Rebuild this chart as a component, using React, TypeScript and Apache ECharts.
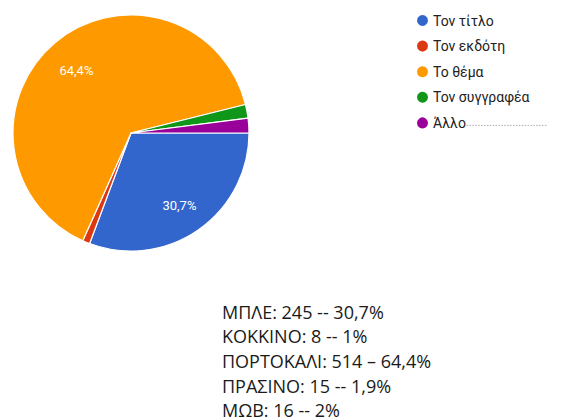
import React, { useEffect, useRef } from "react";
import * as echarts from "echarts";

const categories = ["Τον τίτλο", "Τον εκδότη", "Το θέμα", "Τον συγγραφέα", "Άλλο"];
const values = [245, 8, 514, 15, 16];
const colors = ["#3366CC", "#DC3912", "#FF9900", "#109618", "#990099"];
const otherSuffix = "............................";
const noteNames = ["ΜΠΛΕ", "ΚΟΚΚΙΝΟ", "ΠΟΡΤΟΚΑΛΙ", "ΠΡΑΣΙΝΟ", "ΜΩΒ"];
const noteSeps = [" -- ", " -- ", " – ", " -- ", " -- "];
const notePercents = ["30,7%", "1%", "64,4%", "1,9%", "2%"];
const noteNameSeps = [": ", ": ", ": ", ": ", ": "];

export default function App() {
  const ref = useRef<HTMLDivElement>(null);
  useEffect(() => {
    document.body.style.margin = "0";
    const chart = echarts.init(ref.current!, undefined, { renderer: "svg" });
    const data = categories.map((c, i) => ({
      name: c,
      value: values[i],
      itemStyle: { color: colors[i] },
    }));
    const noteLines = noteNames.map(
      (n, i) => `${n}${noteNameSeps[i]}${values[i]}${noteSeps[i]}${notePercents[i]}`
    );
    chart.setOption({
      animation: false,
      backgroundColor: "#ffffff",
      legend: {
        orient: "vertical",
        left: 410,
        top: 8,
        icon: "circle",
        itemWidth: 13,
        itemHeight: 13,
        itemGap: 10.6,
        data: categories.map((c, i) => ({ name: c, itemStyle: { color: colors[i] } })),
        formatter: (name: string) => (name === "Άλλο" ? name + "{d|" + otherSuffix + "}" : name),
        textStyle: {
          fontFamily: "Roboto",
          fontSize: 14,
          color: "#222222",
          padding: [0, 0, 0, -1],
          rich: { d: { color: "#999999", fontSize: 11, fontFamily: "Roboto" } },
        },
        selectedMode: false,
      },
      series: [
        {
          type: "pie",
          center: [131, 133],
          radius: [0, 118],
          startAngle: 0,
          clockwise: true,
          data,
          label: { show: false },
          labelLine: { show: false },
          itemStyle: { borderColor: "#ffffff", borderWidth: 1.2 },
          silent: true,
        },
        {
          type: "pie",
          center: [131, 136],
          radius: [0, 164],
          startAngle: 0,
          clockwise: true,
          data: categories.map((c, i) => ({ name: c, value: values[i] })),
          itemStyle: { color: "rgba(0,0,0,0)" },
          label: {
            show: true,
            position: "inside",
            color: "#ffffff",
            fontFamily: "Roboto",
            fontSize: 13,
            formatter: (p: any) => (p.percent < 5 ? "" : p.percent.toFixed(1).replace(".", ",") + "%"),
          },
          labelLine: { show: false },
          silent: true,
        },
      ],
      graphic: noteLines.map((t, i) => ({
        type: "text",
        x: 222,
        y: 311.5 + i * 24.7,
        style: {
          text: t,
          fontFamily: "Open Sans",
          fontSize: 18,
          lineHeight: 16,
          verticalAlign: "middle",
          fill: "#1a1a1a",
        },
      })),
    });
    return () => chart.dispose();
  }, []);
  return <div ref={ref} style={{ width: 563, height: 419 }} />;
}
